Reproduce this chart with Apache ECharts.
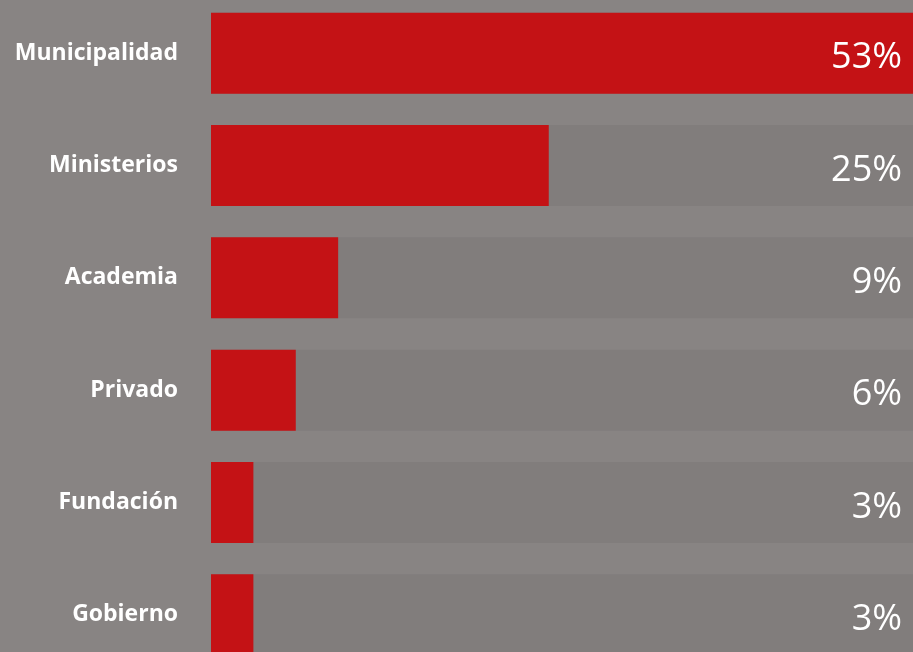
<!DOCTYPE html>
<html>
<head>
<meta charset="utf-8">
<script src="https://cdn.jsdelivr.net/npm/echarts@6/dist/echarts.min.js"></script>
<style>
html,body{margin:0;padding:0;background:#888483;overflow:hidden;width:913px;height:652px;}
#c{width:913px;height:674px;margin-top:-3px;}
</style>
</head>
<body>
<div id="c"></div>
<script>
const categories = ["Municipalidad", "Ministerios", "Academia", "Privado", "Fundación", "Gobierno"];
const values = [53, 25.5, 9.6, 6.4, 3.2, 3.2];
const valueLabels = ["53%", "25%", "9%", "6%", "3%", "3%"];
const axisMax = 53;
const trackValues = categories.map(() => axisMax);

const chart = echarts.init(document.getElementById('c'));
chart.setOption({
  backgroundColor: '#888483',
  animation: false,
  grid: { left: 211, right: 0, top: 0, bottom: 0, containLabel: false },
  xAxis: { type: 'value', min: 0, max: axisMax, show: false },
  yAxis: {
    type: 'category', data: categories, inverse: true,
    axisLine: { show: false }, axisTick: { show: false }, splitLine: { show: false },
    axisLabel: {
      color: '#ffffff', fontFamily: 'Open Sans', fontWeight: 'bold', fontSize: 23,
      margin: 33, align: 'right', verticalAlign: 'middle', padding: [0, 0, 12, 0]
    }
  },
  series: [
    {
      type: 'bar', data: trackValues, barWidth: 81, barGap: '-100%',
      itemStyle: { color: '#817d7c' }, silent: true, z: 1
    },
    {
      type: 'bar', data: values, barWidth: 81, barGap: '-100%',
      itemStyle: { color: '#c41215' }, z: 2
    },
    {
      type: 'bar', data: trackValues, barWidth: 81, barGap: '-100%',
      itemStyle: { color: 'rgba(0,0,0,0)' }, silent: true, z: 3,
      label: {
        show: true, position: 'insideRight', distance: 11, offset: [0, 5],
        color: '#ffffff', fontFamily: 'Open Sans', fontSize: 36,
        formatter: p => valueLabels[p.dataIndex]
      }
    }
  ]
});
</script>
</body>
</html>
